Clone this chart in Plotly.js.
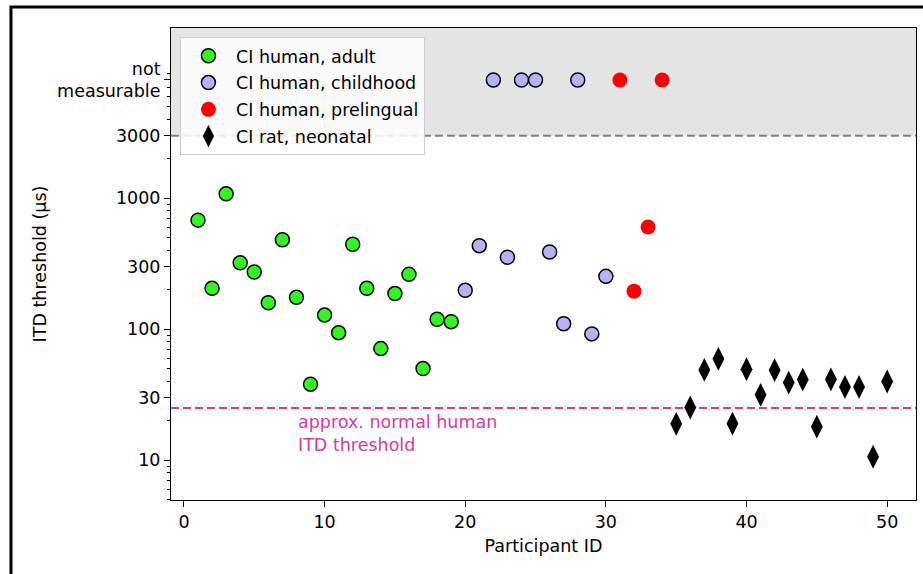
<!DOCTYPE html>
<html>
<head>
<meta charset="utf-8">
<script src="https://cdn.plot.ly/plotly-3.0.1.min.js"></script>
<style>
html,body{margin:0;padding:0;background:#fff;}
#chart{width:923px;height:574px;}
</style>
</head>
<body>
<div id="chart"></div>
<script>
// ---- data ----
const NOT_MEASURABLE = 8000;   // plotted position for "not measurable"
const adultIds = [1,2,3,4,5,6,7,8,9,10,11,12,13,14,15,16,17,18,19];
const adultVals = [680,205,1080,321,273,159,482,175,38,128,94,445,205,71,187,262,50,119,114];
const childIds = [20,21,22,23,24,25,26,27,28,29,30];
const childVals = [198,434,NOT_MEASURABLE,354,NOT_MEASURABLE,NOT_MEASURABLE,388,110,NOT_MEASURABLE,92,253];
const preIds = [31,32,33,34];
const preVals = [NOT_MEASURABLE,195,603,NOT_MEASURABLE];
const ratIds = [35,36,37,38,39,40,41,42,43,44,45,46,47,48,49,50];
const ratVals = [18.9,25.2,48.8,59.3,19.0,49.4,31.5,48.6,39.1,41.2,18.0,41.4,36.2,36.2,10.6,39.8];
const yTickVals = [10,30,100,300,1000,3000,NOT_MEASURABLE];
const yTickText = ['10','30','100','300','1000','3000','not<br>measurable'];
const xTickVals = [0,10,20,30,40,50];
const CUTOFF = 3000;          // measurable limit
const NORMAL_ITD = 25;        // approx. normal human ITD threshold

// minor log ticks
const minorVals = [];
for (let e = 0; e <= 4; e++) for (let m = 2; m <= 9; m++) minorVals.push(m * Math.pow(10, e));

const FONT = 'DejaVu Sans, sans-serif';
const FS = 17.5;
const pink = '#d63aa3';

const traces = [
  {x: adultIds, y: adultVals, name: 'CI human, adult', mode: 'markers', type: 'scatter',
   legendgroup: 'a',
   marker: {symbol: 'circle', size: 14, color: '#33f51f', line: {color: '#000', width: 1.5}}},
  {x: childIds, y: childVals, name: 'CI human, childhood', mode: 'markers', type: 'scatter',
   legendgroup: 'b',
   marker: {symbol: 'circle', size: 14, color: '#b3b3f5', line: {color: '#000', width: 1.5}}},
  {x: preIds, y: preVals, name: 'CI human, prelingual', mode: 'markers', type: 'scatter',
   legendgroup: 'c',
   marker: {symbol: 'circle', size: 15, color: '#ff0000', line: {width: 0}}},
  {x: ratIds, y: ratVals, name: 'CI rat, neonatal', mode: 'markers', type: 'scatter',
   legendgroup: 'd',
   marker: {symbol: 'diamond-tall', size: 17, color: '#000', line: {width: 0}}}
];

const layout = {
  width: 923, height: 574,
  margin: {l: 171, r: 7, t: 28, b: 74},
  paper_bgcolor: '#fff', plot_bgcolor: '#fff',
  font: {family: FONT, size: FS, color: '#000'},
  showlegend: true,
  legend: {x: 0.012, y: 0.981, xanchor: 'left', yanchor: 'top',
           bgcolor: 'rgba(255,255,255,0.85)', bordercolor: '#cccccc', borderwidth: 1,
           font: {family: FONT, size: FS}, traceorder: 'grouped', tracegroupgap: 1,
           itemwidth: 45},
  xaxis: {range: [-0.92, 52.05], tickmode: 'array', tickvals: xTickVals,
          ticks: 'outside', ticklen: 6, tickcolor: '#000', showgrid: false, zeroline: false,
          showline: true, linecolor: '#000', linewidth: 1, mirror: true,
          title: {text: 'Participant ID', font: {family: FONT, size: FS}, standoff: 8},
          tickfont: {family: FONT, size: FS}},
  yaxis: {type: 'log', range: [0.695, 4.30], tickmode: 'array', tickvals: yTickVals, ticktext: yTickText,
          ticks: 'outside', ticklen: 6, tickcolor: '#000', showgrid: false, zeroline: false,
          showline: true, linecolor: '#000', linewidth: 1, mirror: true,
          minor: {tickmode: 'array', tickvals: minorVals, ticks: 'outside', ticklen: 3, tickcolor: '#000', showgrid: false},
          title: {text: 'ITD threshold (µs)', font: {family: FONT, size: FS}, standoff: 5},
          tickfont: {family: FONT, size: FS}},
  shapes: [
    {type: 'rect', xref: 'paper', yref: 'y', x0: 0, x1: 1, y0: CUTOFF, y1: 1e5,
     fillcolor: '#e5e5e5', line: {width: 0}, layer: 'below'},
    {type: 'line', xref: 'paper', yref: 'y', x0: 0, x1: 1, y0: CUTOFF, y1: CUTOFF,
     line: {color: '#808080', width: 2, dash: '8px,4px'}, layer: 'below'},
    {type: 'line', xref: 'paper', yref: 'y', x0: 0, x1: 1, y0: NORMAL_ITD, y1: NORMAL_ITD,
     line: {color: pink, width: 2, dash: '8px,4px'}, layer: 'below'},
    {type: 'path', xref: 'paper', yref: 'paper',
     path: 'M -0.2148 -0.3 L -0.2148 1.0445 L 1.2 1.0445',
     line: {color: '#000', width: 3}}
  ],
  annotations: [
    {x: 8, y: Math.log10(NORMAL_ITD), xref: 'x', yref: 'y', xanchor: 'left', yanchor: 'top',
     yshift: -2, align: 'left', showarrow: false,
     text: 'approx. normal human<br>ITD threshold', font: {family: FONT, size: FS, color: pink}}
  ]
};

Plotly.newPlot('chart', traces, layout, {displayModeBar: false, staticPlot: true});
</script>
</body>
</html>
